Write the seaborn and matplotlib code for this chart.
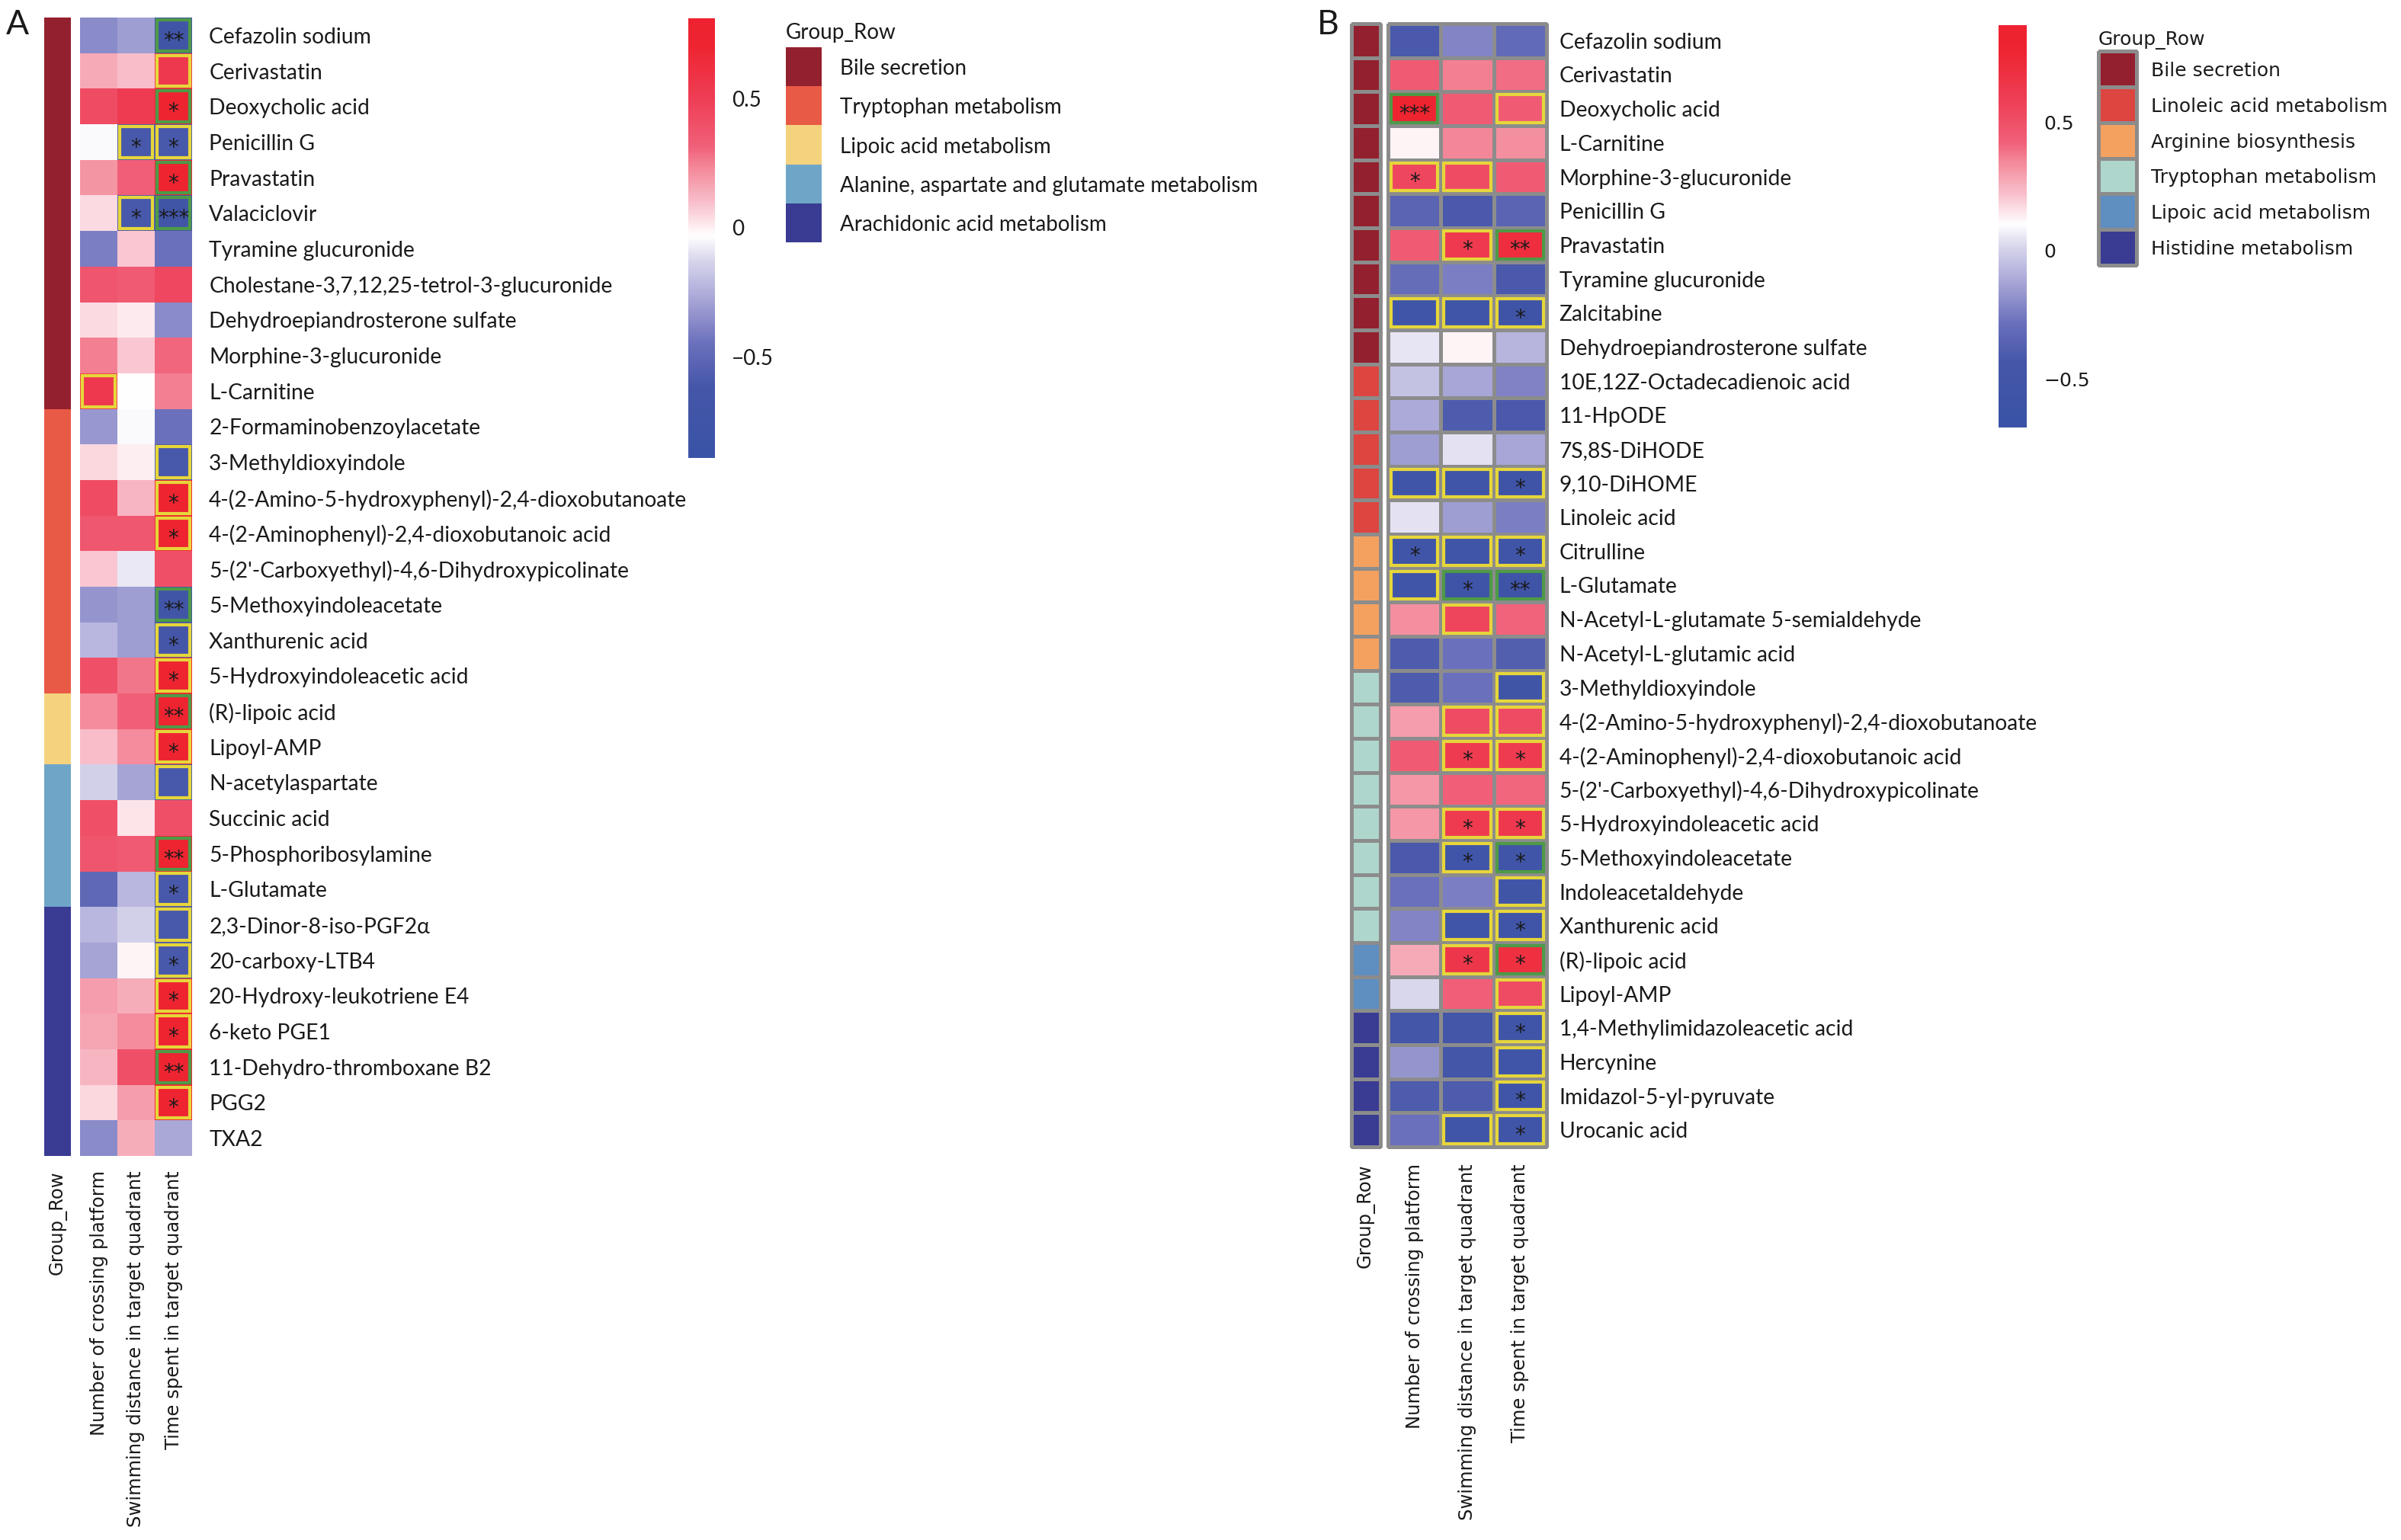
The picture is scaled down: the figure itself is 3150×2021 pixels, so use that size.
import numpy as np
import pandas as pd
import matplotlib
matplotlib.use("Agg")
import matplotlib.pyplot as plt
import seaborn as sns
from matplotlib.colors import LinearSegmentedColormap, ListedColormap
from matplotlib.patches import Rectangle

# ---------------------------------------------------------------- data
columns = ["Number of crossing platform",
           "Swimming distance in target quadrant",
           "Time spent in target quadrant"]

# ---- panel A
a_metabolites = [
    "Cefazolin sodium", "Cerivastatin", "Deoxycholic acid", "Penicillin G",
    "Pravastatin", "Valaciclovir", "Tyramine glucuronide",
    "Cholestane-3,7,12,25-tetrol-3-glucuronide", "Dehydroepiandrosterone sulfate",
    "Morphine-3-glucuronide", "L-Carnitine", "2-Formaminobenzoylacetate",
    "3-Methyldioxyindole", "4-(2-Amino-5-hydroxyphenyl)-2,4-dioxobutanoate",
    "4-(2-Aminophenyl)-2,4-dioxobutanoic acid",
    "5-(2'-Carboxyethyl)-4,6-Dihydroxypicolinate",
    "5-Methoxyindoleacetate", "Xanthurenic acid", "5-Hydroxyindoleacetic acid",
    "(R)-lipoic acid", "Lipoyl-AMP", "N-acetylaspartate", "Succinic acid",
    "5-Phosphoribosylamine", "L-Glutamate", "2,3-Dinor-8-iso-PGF2α",
    "20-carboxy-LTB4", "20-Hydroxy-leukotriene E4", "6-keto PGE1",
    "11-Dehydro-thromboxane B2", "PGG2", "TXA2"]
a_group_names = ["Bile secretion", "Tryptophan metabolism", "Lipoic acid metabolism",
                 "Alanine, aspartate and glutamate metabolism",
                 "Arachidonic acid metabolism"]
a_group_sizes = [11, 8, 2, 4, 7]
a_group_colors = ["#93202E", "#E85A45", "#F5D27E", "#6FA6C8", "#3A3B92"]
a_crossing = [-0.36, 0.15, 0.42, -0.04, 0.20, 0.04, -0.40, 0.37, 0.04, 0.25, 0.55,
              -0.32, 0.05, 0.42, 0.36, 0.08, -0.33, -0.22, 0.40, 0.22, 0.10, -0.14,
              0.40, 0.37, -0.50, -0.22, -0.28, 0.18, 0.16, 0.12, 0.05, -0.36]
a_swimming = [-0.30, 0.10, 0.52, -0.60, 0.32, -0.60, 0.08, 0.34, 0.01, 0.08, -0.03,
              -0.04, 0.00, 0.12, 0.36, -0.08, -0.30, -0.30, 0.27, 0.32, 0.22, -0.28,
              0.02, 0.35, -0.22, -0.14, -0.01, 0.14, 0.22, 0.40, 0.18, 0.14]
a_time = [-0.72, 0.55, 0.73, -0.60, 0.73, -0.72, -0.45, 0.45, -0.36, 0.30, 0.25,
          -0.45, -0.60, 0.72, 0.72, 0.40, -0.72, -0.62, 0.72, 0.72, 0.72, -0.60,
          0.40, 0.72, -0.60, -0.60, -0.60, 0.72, 0.72, 0.72, 0.72, -0.27]
# (row, column, stars, frame)  frame: y = yellow, g = green
a_marks = [(10, 0, "", "y"),
           (3, 1, "*", "y"), (5, 1, "*", "y"),
           (0, 2, "**", "g"), (1, 2, "", "y"), (2, 2, "*", "g"), (3, 2, "*", "y"),
           (4, 2, "*", "g"), (5, 2, "***", "g"), (12, 2, "", "y"), (13, 2, "*", "y"),
           (14, 2, "*", "y"), (16, 2, "**", "g"), (17, 2, "*", "y"), (18, 2, "*", "y"),
           (19, 2, "**", "g"), (20, 2, "*", "y"), (21, 2, "", "y"), (23, 2, "**", "g"),
           (24, 2, "*", "y"), (25, 2, "", "y"), (26, 2, "*", "y"), (27, 2, "*", "y"),
           (28, 2, "*", "y"), (29, 2, "**", "g"), (30, 2, "*", "y")]
a_vmin, a_vmax = -0.89, 0.81

# ---- panel B
b_metabolites = [
    "Cefazolin sodium", "Cerivastatin", "Deoxycholic acid", "L-Carnitine",
    "Morphine-3-glucuronide", "Penicillin G", "Pravastatin", "Tyramine glucuronide",
    "Zalcitabine", "Dehydroepiandrosterone sulfate", "10E,12Z-Octadecadienoic acid",
    "11-HpODE", "7S,8S-DiHODE", "9,10-DiHOME", "Linoleic acid", "Citrulline",
    "L-Glutamate", "N-Acetyl-L-glutamate 5-semialdehyde", "N-Acetyl-L-glutamic acid",
    "3-Methyldioxyindole", "4-(2-Amino-5-hydroxyphenyl)-2,4-dioxobutanoate",
    "4-(2-Aminophenyl)-2,4-dioxobutanoic acid",
    "5-(2'-Carboxyethyl)-4,6-Dihydroxypicolinate", "5-Hydroxyindoleacetic acid",
    "5-Methoxyindoleacetate", "Indoleacetaldehyde", "Xanthurenic acid",
    "(R)-lipoic acid", "Lipoyl-AMP", "1,4-Methylimidazoleacetic acid", "Hercynine",
    "Imidazol-5-yl-pyruvate", "Urocanic acid"]
b_group_names = ["Bile secretion", "Linoleic acid metabolism", "Arginine biosynthesis",
                 "Tryptophan metabolism", "Lipoic acid metabolism", "Histidine metabolism"]
b_group_sizes = [10, 5, 4, 8, 2, 4]
b_group_colors = ["#93202E", "#DC4540", "#F4A160", "#AFD6CC", "#5F8EC0", "#3A3B92"]
b_crossing = [-0.42, 0.45, 0.80, 0.12, 0.55, -0.35, 0.45, -0.30, -0.55, 0.05, -0.04,
              -0.11, -0.15, -0.55, 0.04, -0.55, -0.55, 0.33, -0.40, -0.40, 0.30, 0.45,
              0.31, 0.31, -0.42, -0.28, -0.22, 0.27, 0.02, -0.48, -0.17, -0.40, -0.28]
b_swimming = [-0.22, 0.36, 0.45, 0.35, 0.52, -0.42, 0.63, -0.24, -0.55, 0.12, -0.12,
              -0.40, 0.04, -0.55, -0.15, -0.55, -0.58, 0.56, -0.28, -0.28, 0.53, 0.62,
              0.43, 0.62, -0.55, -0.24, -0.55, 0.65, 0.43, -0.48, -0.48, -0.40, -0.55]
b_time = [-0.32, 0.40, 0.45, 0.33, 0.45, -0.35, 0.72, -0.42, -0.58, -0.08, -0.23,
          -0.42, -0.12, -0.58, -0.24, -0.55, -0.58, 0.42, -0.38, -0.52, 0.53, 0.62,
          0.41, 0.64, -0.55, -0.52, -0.55, 0.70, 0.53, -0.55, -0.55, -0.55, -0.55]
b_marks = [(2, 0, "***", "g"), (4, 0, "*", "y"), (8, 0, "", "y"), (13, 0, "", "y"),
           (15, 0, "*", "y"), (16, 0, "", "y"),
           (4, 1, "", "y"), (6, 1, "*", "y"), (8, 1, "", "y"), (13, 1, "", "y"),
           (15, 1, "", "y"), (16, 1, "*", "g"), (17, 1, "", "y"), (20, 1, "", "y"),
           (21, 1, "*", "y"), (23, 1, "*", "y"), (24, 1, "*", "y"), (26, 1, "", "y"),
           (27, 1, "*", "y"), (32, 1, "", "y"),
           (2, 2, "", "y"), (6, 2, "**", "g"), (8, 2, "*", "y"), (13, 2, "*", "y"),
           (15, 2, "*", "y"), (16, 2, "**", "g"), (19, 2, "", "y"), (20, 2, "", "y"),
           (21, 2, "*", "y"), (23, 2, "*", "y"), (24, 2, "*", "g"), (25, 2, "", "y"),
           (26, 2, "*", "y"), (27, 2, "*", "g"), (28, 2, "", "y"), (29, 2, "*", "y"),
           (30, 2, "", "y"), (31, 2, "*", "y"), (32, 2, "*", "y")]
b_vmin, b_vmax = -0.69, 0.88

cbar_ticks = [-0.5, 0, 0.5]
cbar_ticklabels = ["\u22120.5", "0", "0.5"]

# ---------------------------------------------------------------- style
sns.set_theme(style="white")
LATO = ["Lato", "DejaVu Sans"]
DEJA = ["DejaVu Sans"]
plt.rcParams["font.family"] = LATO

W, H = 3150, 2021
fig = plt.figure(figsize=(W / 100, H / 100), dpi=100)


def box(x0, y0, x1, y1):
    return [x0 / W, 1 - y1 / H, (x1 - x0) / W, (y1 - y0) / H]


stops = [(0.00, "#3A53A6"), (0.16, "#4556A8"), (0.26, "#6A70BC"), (0.32, "#9090CC"),
         (0.39, "#B8B6DE"), (0.45, "#D8D6EC"), (0.505, "#FFFFFF"), (0.58, "#F8C0CC"),
         (0.65, "#F490A0"), (0.71, "#F06078"), (0.81, "#EE4058"), (0.94, "#EE2431"),
         (1.00, "#EE2230")]
cmap = LinearSegmentedColormap.from_list("blue_white_red", stops, N=256)
FRAME = {"y": "#E6D63A", "g": "#4E9A47"}


def panel(metab, sizes, gnames, gcolors, vals, marks, vmin, vmax, g):
    codes = np.repeat(np.arange(len(sizes)), sizes)
    gcmap = ListedColormap(gcolors)
    lw, lc = g["lw"], "#8C8C8C"

    ax_g = fig.add_axes(box(*g["group"]))
    ax_h = fig.add_axes(box(*g["heat"]))
    ax_c = fig.add_axes(box(*g["cbar"]))
    ax_l = fig.add_axes(box(*g["legend"]))

    df_g = pd.DataFrame({"Group_Row": codes}, index=metab)
    sns.heatmap(df_g, ax=ax_g, cmap=gcmap, vmin=-0.5, vmax=len(gcolors) - 0.5,
                cbar=False, xticklabels=True, yticklabels=False,
                linewidths=lw, linecolor=lc)

    df = pd.DataFrame(dict(zip(columns, vals)), index=metab)
    sns.heatmap(df, ax=ax_h, cmap=cmap, vmin=vmin, vmax=vmax, cbar_ax=ax_c,
                linewidths=lw, linecolor=lc, xticklabels=True, yticklabels=True)
    if lw > 0:
        ax_g.collections[0].set_clip_on(False)
        ax_h.collections[0].set_clip_on(False)

    for ax in (ax_g, ax_h):
        ax.set_xlabel("")
        ax.set_ylabel("")
        ax.tick_params(axis="x", length=0, pad=g["xpad"], labelsize=17.5,
                       labelrotation=90)
        for t in ax.get_xticklabels():
            t.set_fontfamily(DEJA)
            t.set_color("#1a1a1a")

    ax_h.yaxis.tick_right()
    ax_h.tick_params(axis="y", length=0, pad=g["ypad"], labelsize=g["rowfs"],
                     labelrotation=0)
    for t in ax_h.get_yticklabels():
        t.set_fontfamily(LATO)
        t.set_color("#1a1a1a")

    dx, dy = g["inset"]
    for r, c, s, b in marks:
        if b:
            ax_h.add_patch(Rectangle((c + dx, r + dy), 1 - 2 * dx, 1 - 2 * dy,
                                     fill=False, ec=FRAME[b], lw=3, zorder=3,
                                     clip_on=False))
        if s:
            ax_h.text(c + 0.5, r + 0.5 + 0.16, s, ha="center", va="center",
                      fontsize=20, color="#1a1a1a", family=DEJA, zorder=4)

    cb = ax_h.collections[0].colorbar
    cb.outline.set_visible(False)
    cb.set_ticks(cbar_ticks)
    cb.set_ticklabels(cbar_ticklabels)
    ax_c.tick_params(length=0, pad=g["cpad"], labelsize=g["cfs"])
    for t in ax_c.get_yticklabels():
        t.set_fontfamily(g["lfam"])
        t.set_color("#1a1a1a")

    df_l = pd.DataFrame({"": np.arange(len(gnames))}, index=gnames)
    sns.heatmap(df_l, ax=ax_l, cmap=gcmap, vmin=-0.5, vmax=len(gcolors) - 0.5,
                cbar=False, xticklabels=False, yticklabels=True,
                linewidths=g["llw"], linecolor=lc)
    ax_l.collections[0].set_clip_on(False)
    ax_l.set_ylabel("")
    ax_l.yaxis.tick_right()
    ax_l.tick_params(axis="y", length=0, pad=g["lpad"], labelsize=g["lfs"],
                     labelrotation=0)
    for t in ax_l.get_yticklabels():
        t.set_fontfamily(g["lfam"])
        t.set_color("#1a1a1a")
    ax_l.set_title("Group_Row", loc="left", pad=g["tpad"], fontsize=g["lfs"],
                   family=g["lfam"], color="#1a1a1a")


panel(a_metabolites, a_group_sizes, a_group_names, a_group_colors,
      [a_crossing, a_swimming, a_time], a_marks, a_vmin, a_vmax,
      dict(group=(58, 23, 93, 1517), heat=(105, 23, 252, 1517),
           cbar=(903, 24, 938, 601), legend=(1031, 62, 1078, 318),
           lw=0, llw=0, xpad=14, ypad=16, cpad=16, lpad=17, tpad=8,
           rowfs=20.3, cfs=20, lfs=20, lfam=LATO, inset=(0.06, 0.064)))

panel(b_metabolites, b_group_sizes, b_group_names, b_group_colors,
      [b_crossing, b_swimming, b_time], b_marks, b_vmin, b_vmax,
      dict(group=(1773, 31, 1811, 1505), heat=(1821, 31, 2029, 1505),
           cbar=(2622, 33, 2659, 561), legend=(2753, 67, 2803, 348),
           lw=2.2, llw=2.2, xpad=16, ypad=12, cpad=16, lpad=14, tpad=6,
           rowfs=20.3, cfs=18, lfs=18, lfam=DEJA, inset=(0.058, 0.09)))

fig.text(8 / W, 1 - 45 / H, "A", fontsize=32, family=LATO, color="#1a1a1a")
fig.text(1728 / W, 1 - 45 / H, "B", fontsize=32, family=LATO, color="#1a1a1a")

fig.savefig("out.png", dpi=100, facecolor="white")
